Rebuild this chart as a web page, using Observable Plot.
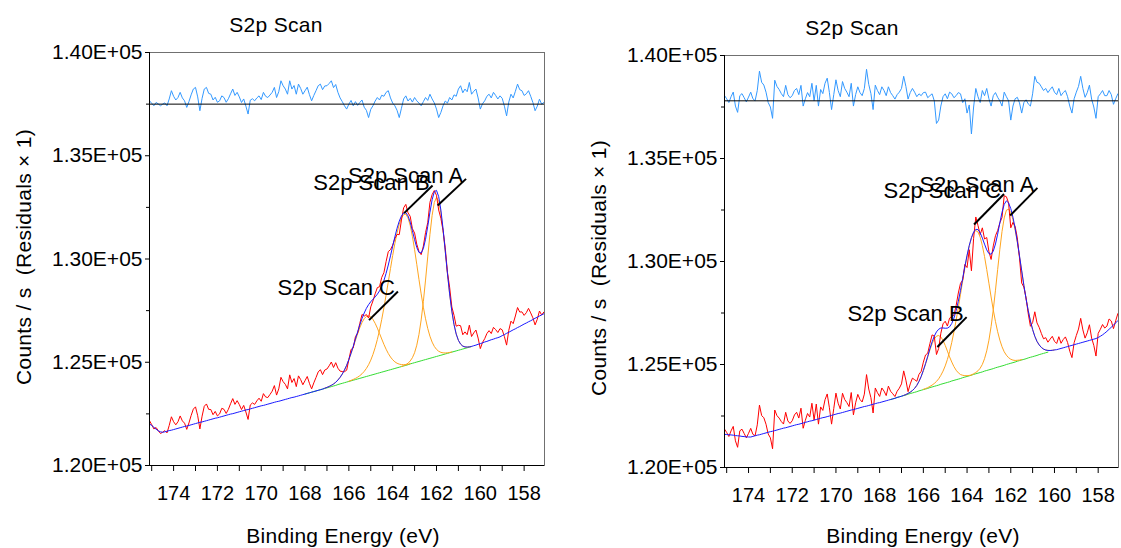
<!DOCTYPE html>
<html><head><meta charset="utf-8">
<script src="https://cdn.jsdelivr.net/npm/d3@7"></script>
<script src="https://cdn.jsdelivr.net/npm/@observablehq/plot@0.6"></script>
<style>
body{margin:0;background:#fff;font-family:"Liberation Sans",Arial,sans-serif;}
#fig{position:relative;width:1121px;height:548px;overflow:hidden;background:#fff;}
.panel{position:absolute;top:0;}
.t{position:absolute;white-space:pre;font-size:21px;color:#000;transform:translate(-50%,-50%);line-height:1;letter-spacing:0.3px;}
.v{transform:translate(-50%,-50%) rotate(-90deg);}
</style></head><body><div id="fig"></div>
<script>
// ---- shared grid / axes ----
const energyStart = 175.1, energyStep = 0.1, energyCount = 181;
const xDomain = [175.1, 157.07];
const yDomain = [120000, 140000];
const yMajorTicks = [120000, 125000, 130000, 135000, 140000];
const yMinorTicks = [122500, 127500, 132500, 137500];
const xMajorTicks = [174, 172, 170, 168, 166, 164, 162, 160, 158];
const xMinorTicks = [175, 173, 171, 169, 167, 165, 163, 161, 159];
const titleText = "S2p Scan";
const xLabelText = "Binding Energy (eV)";
const yLabelText = "Counts / s  (Residuals × 1)";
const peakNames = ["S2p Scan A", "S2p Scan B", "S2p Scan C"];

// ---- left panel ----
const leftBackground = [
122010,121940,121850,121760,121680,121630,121610,121630,121660,121690,
121710,121740,121770,121800,121830,121860,121890,121910,121940,121970,
122000,122030,122060,122090,122110,122140,122170,122200,122230,122260,
122290,122310,122340,122370,122400,122430,122460,122490,122510,122540,
122570,122600,122630,122660,122690,122710,122740,122770,122800,122830,
122860,122890,122910,122940,122970,123000,123030,123060,123090,123110,
123140,123170,123200,123230,123260,123290,123310,123340,123370,123400,
123430,123460,123490,123520,123550,123580,123610,123640,123670,123700,
123730,123760,123790,123820,123850,123880,123920,123950,123980,124010,
124040,124070,124100,124130,124160,124190,124220,124250,124280,124310,
124340,124370,124400,124430,124460,124490,124520,124550,124580,124610,
124640,124670,124700,124730,124760,124790,124820,124850,124880,124920,
124950,124980,125010,125040,125070,125100,125130,125160,125190,125220,
125250,125280,125310,125340,125370,125400,125430,125460,125490,125520,
125550,125580,125610,125640,125670,125700,125730,125760,125800,125830,
125870,125900,125940,125980,126010,126050,126090,126120,126160,126190,
126230,126290,126340,126400,126450,126510,126570,126620,126680,126730,
126790,126850,126900,126960,127010,127070,127130,127180,127240,127290,
127350];
const leftResidual = [
160,40,-80,80,10,-80,0,60,-80,250,
650,380,200,320,570,300,160,-160,120,450,
730,810,350,-320,280,730,810,520,480,200,
330,90,160,400,320,90,260,500,730,420,
570,350,80,250,-100,-480,190,260,160,300,
400,220,570,380,320,440,570,810,320,600,
1130,890,730,480,1130,730,900,480,970,760,
480,650,820,460,160,420,650,890,970,700,
880,890,1000,1130,800,950,570,300,120,-80,
-240,0,180,-80,120,-60,80,200,-150,-300,
-650,-250,-80,150,320,200,430,380,570,650,
300,50,-80,-300,-650,-200,250,400,150,280,
100,320,160,50,-80,120,320,180,480,250,
60,-240,-650,-400,-80,150,50,320,200,450,
380,730,890,550,730,600,1050,480,620,730,
300,-240,20,160,380,480,300,570,420,250,
400,280,-100,-570,100,480,300,620,970,700,
650,420,500,650,380,80,-320,-100,240,0,
80];
const leftPeakAStart = 163.6;
const leftPeakA = [6,15,34,71,142,269,481,815,1305,1979,2837,3850,4941,5999,6892,7490,7700,7490,6892,5999,4941,3850,2837,1979,1305,815,481,269,142,71,34,15,6];
const leftPeakBStart = 166.0;
const leftPeakB = [14,23,37,57,87,130,191,276,390,540,733,978,1279,1641,2066,2552,3091,3675,4284,4900,5499,6052,6535,6922,7193,7332,
7323,7113,6711,6149,5474,4732,3973,3241,2567,1975,1477,1072,756,517,344,222,139,85,50,29,16,9];
const leftPeakCStart = 167.1;
const leftPeakC = [13,23,38,62,97,149,221,320,450,614,814,1051,1317,1606,1903,2193,2455,2673,2829,2910,2910,2829,2673,2455,2193,1903,1606,1317,1051,814,614,450,320,221,149,97,62,38,23,13];
const leftRegion = [168.0, 160.4];
const leftResidualBaseline = 137500;
const leftLabelTipE = [161.95, 163.48, 165.08];
const leftLabelTipV = [132590, 132220, 127040];
const leftLabelTailE = [160.65, 162.18, 163.76];
const leftLabelTailV = [133880, 133560, 128430];

// ---- right panel ----
const rightBackground = [
121610,121600,121590,121580,121570,121550,121540,121530,121510,121500,
121490,121480,121480,121510,121540,121570,121590,121620,121650,121680,
121710,121740,121760,121790,121820,121850,121880,121910,121930,121960,
121990,122020,122050,122080,122100,122130,122160,122190,122220,122250,
122270,122300,122330,122360,122390,122420,122440,122470,122500,122530,
122560,122590,122620,122640,122670,122700,122730,122760,122790,122810,
122840,122870,122900,122930,122960,122980,123010,123040,123070,123100,
123130,123150,123180,123210,123240,123270,123300,123330,123360,123400,
123430,123460,123490,123520,123560,123590,123620,123650,123680,123720,
123750,123780,123810,123840,123880,123910,123940,123970,124000,124040,
124070,124100,124130,124160,124200,124230,124260,124290,124320,124360,
124390,124420,124450,124480,124520,124550,124580,124610,124640,124680,
124710,124740,124770,124800,124840,124870,124900,124930,124960,125000,
125030,125060,125090,125120,125160,125190,125220,125250,125280,125320,
125350,125380,125410,125440,125480,125510,125540,125570,125600,125630,
125660,125690,125720,125750,125780,125810,125840,125870,125900,125930,
125960,125990,126020,126050,126080,126110,126140,126170,126200,126230,
126260,126310,126370,126440,126520,126610,126710,126810,126910,127020,
127130];
const rightResidual = [
255,100,-85,200,425,-255,-560,250,350,150,
-50,180,420,100,0,500,1440,900,765,420,
-85,-300,-850,1000,700,550,350,200,750,300,
150,250,500,600,300,750,-255,100,400,200,
850,0,750,-255,550,350,850,1100,400,-425,
300,1020,500,200,935,600,420,200,850,-255,
300,680,400,250,600,1530,800,350,-425,760,
500,300,680,500,250,680,400,250,85,300,
420,600,1190,700,85,400,600,420,200,340,
250,400,420,150,250,340,0,-1100,-935,-255,
200,340,100,420,340,150,250,400,340,-85,
100,-595,-200,-1610,-300,600,200,-85,500,250,
600,100,-255,250,400,170,0,-255,420,200,
0,-935,-255,100,170,-100,-595,-85,50,-150,
-255,340,1190,900,850,680,500,600,400,550,
680,420,300,600,250,400,500,200,-255,-595,
100,420,700,1190,600,170,400,760,85,-300,
-850,200,340,500,250,250,500,300,-170,100,
340];
const rightPeakAStart = 163.8;
const rightPeakA = [15,31,61,115,210,364,602,952,1438,2076,2861,3767,4737,5690,6529,7156,7492,
7510,7315,6939,6411,5769,5056,4316,3588,2905,2292,1760,1317,959,681,471,317,208,133,83,50,29,17];
const rightPeakBStart = 166.9;
const rightPeakB = [10,20,37,67,117,193,306,462,667,919,1210,1521,1828,2097,2298,2406,2406,2298,2097,1828,1521,1210,919,667,462,306,193,117,67,37,20,10];
const rightPeakCStart = 166.0;
const rightPeakC = [14,23,37,58,91,139,208,304,434,607,832,1115,1461,1874,2353,2891,3475,4088,4706,5302,5844,6304,6655,6875,6950,
6853,6573,6130,5560,4903,4206,3508,2846,2245,1722,1285,932,657,452,301,195,123,76,45,26,15];
const rightRegion = [167.5, 160.3];
const rightResidualBaseline = 137800;
const rightLabelTipE = [162.03, 165.36, 163.68];
const rightLabelTipV = [132230, 125850, 131795];
const rightLabelTailE = [160.78, 164.02, 162.31];
const rightLabelTailV = [133573, 127300, 133280];

// ---- build ----
const fmt = v => (v / 1e5).toFixed(2) + "E+05";
const idx = E => Math.round((energyStart - E) / energyStep);
const energy = Array.from({length: energyCount}, (_, i) => +(energyStart - i * energyStep).toFixed(1));

function makePanel(cfg) {
  const env = cfg.background.slice();
  const compRows = [];
  cfg.peaks.forEach((p, j) => {
    const s = idx(p.start);
    p.values.forEach((h, k) => {
      env[s + k] += h;
      compRows.push({peak: j, E: energy[s + k], v: cfg.background[s + k] + h});
    });
  });
  const rows = energy.map((E, i) => ({
    E, bg: cfg.background[i], env: env[i],
    raw: env[i] + cfg.residual[i],
    res: cfg.baseline + cfg.residual[i]
  }));
  const region = rows.filter(r => r.E <= cfg.region[0] + 1e-6 && r.E >= cfg.region[1] - 1e-6);
  const labels = peakNames.map((name, i) => ({
    name, tipE: cfg.tipE[i], tipV: cfg.tipV[i], tailE: cfg.tailE[i], tailV: cfg.tailV[i]
  }));
  return Plot.plot({
    width: cfg.width, height: 548,
    marginLeft: cfg.m[0], marginRight: cfg.m[1], marginTop: cfg.m[2], marginBottom: cfg.m[3],
    x: {domain: xDomain, label: null},
    y: {domain: yDomain, label: null},
    style: {fontFamily: "'Liberation Sans', Arial, sans-serif", fontSize: "20px", color: "#000", background: "transparent", overflow: "visible"},
    marks: [
      Plot.frame({stroke: "#707070"}),
      Plot.line(region, {x: "E", y: "bg", stroke: "#33dd33", strokeWidth: 1}),
      Plot.line(compRows, {x: "E", y: "v", z: "peak", stroke: "#ffa51f", strokeWidth: 1, clip: true}),
      Plot.line(rows, {x: "E", y: "raw", stroke: "#ff0000", strokeWidth: 1, clip: true}),
      Plot.line(rows, {x: "E", y: "env", stroke: "#1a1aff", strokeWidth: 1, clip: true}),
      Plot.line(rows, {x: "E", y: "res", stroke: "#3399ff", strokeWidth: 1, clip: true}),
      Plot.ruleY([cfg.baseline], {stroke: "#000", strokeWidth: 1}),
      Plot.ruleX([xDomain[0]], {stroke: "#000"}),
      Plot.ruleY([yDomain[0]], {stroke: "#000"}),
      Plot.axisY(yMajorTicks, {tickSize: 4, tickPadding: 3, tickFormat: fmt, stroke: "#000", fontSize: 21}),
      Plot.axisY(yMinorTicks, {tickSize: 3, tickFormat: () => "", stroke: "#000"}),
      Plot.axisX(xMajorTicks, {tickSize: 6, tickPadding: 14, stroke: "#000", fontSize: 20}),
      Plot.axisX(xMinorTicks, {tickSize: 6, tickFormat: () => "", stroke: "#000"}),
      Plot.link(labels, {x1: "tipE", y1: "tipV", x2: "tailE", y2: "tailV", stroke: "#000", strokeWidth: 2}),
      Plot.text(labels, {x: "tailE", y: "tailV", text: "name", textAnchor: "end", dx: -3, dy: -3, fontSize: 22, fill: "#000"})
    ]
  });
}

const fig = document.getElementById("fig");
function addPanel(svg, left) {
  svg.classList.add("panel");
  svg.style.left = left + "px";
  fig.appendChild(svg);
}
function addText(txt, x, y, vertical) {
  const d = document.createElement("div");
  d.className = "t" + (vertical ? " v" : "");
  d.textContent = txt;
  d.style.left = x + "px";
  d.style.top = y + "px";
  fig.appendChild(d);
}

addPanel(makePanel({
  width: 560, m: [149, 16, 52, 83],
  background: leftBackground, residual: leftResidual, baseline: leftResidualBaseline,
  peaks: [{start: leftPeakAStart, values: leftPeakA}, {start: leftPeakBStart, values: leftPeakB}, {start: leftPeakCStart, values: leftPeakC}],
  region: leftRegion,
  tipE: leftLabelTipE, tipV: leftLabelTipV, tailE: leftLabelTailE, tailV: leftLabelTailV
}), 0);
addPanel(makePanel({
  width: 561, m: [164, 3, 55, 81],
  background: rightBackground, residual: rightResidual, baseline: rightResidualBaseline,
  peaks: [{start: rightPeakAStart, values: rightPeakA}, {start: rightPeakBStart, values: rightPeakB}, {start: rightPeakCStart, values: rightPeakC}],
  region: rightRegion,
  tipE: rightLabelTipE, tipV: rightLabelTipV, tailE: rightLabelTailE, tailV: rightLabelTailV
}), 560);

addText(titleText, 276, 24);
addText(titleText, 852, 27);
addText(xLabelText, 343, 535);
addText(xLabelText, 923, 535);
addText(yLabelText, 23, 257, true);
addText(yLabelText, 598, 268, true);
</script></body></html>
